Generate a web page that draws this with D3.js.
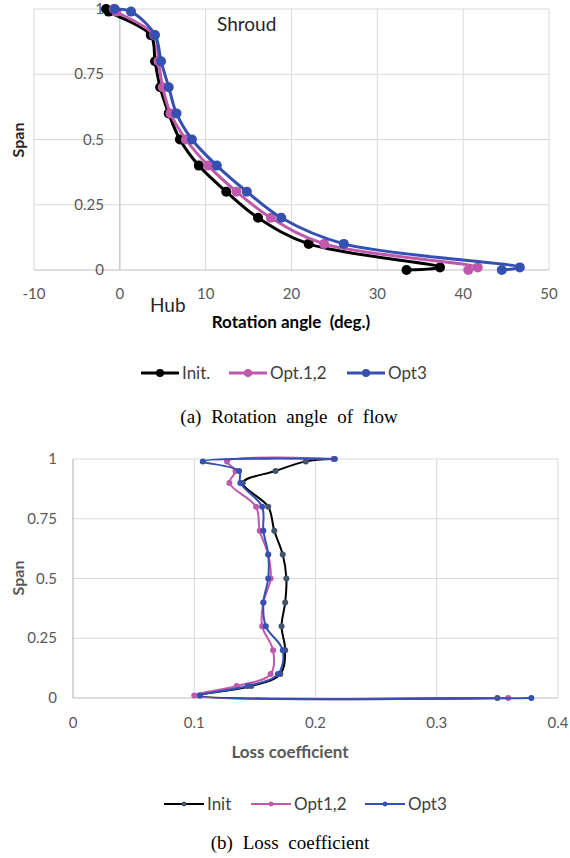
<!DOCTYPE html>
<html>
<head>
<meta charset="utf-8">
<script src="https://cdn.jsdelivr.net/npm/d3@7"></script>
<style>
  body { margin: 0; background: #fff; }
  svg { display: block; }
  .tick-label { font-family: Lato, "Open Sans", sans-serif; font-size: 15px; fill: #595959; }
  .caption { font-family: "Liberation Serif", "Times New Roman", serif; font-size: 19px; fill: #000; word-spacing: 5px; }
</style>
</head>
<body>
<div id="chart"></div>
<script>
// ---- data: (a) rotation angle of flow ----
const spanA = [1, 0.99, 0.9, 0.8, 0.7, 0.6, 0.5, 0.4, 0.3, 0.2, 0.1, 0.01, 0];
const angleInit = [-1.6, -1.3, 3.6, 4.1, 4.7, 5.7, 7.0, 9.2, 12.4, 16.1, 22.0, 37.3, 33.4];
const angleOpt12 = [-0.7, -0.4, 4.0, 4.5, 5.0, 5.9, 7.7, 10.3, 13.6, 17.6, 23.8, 41.7, 40.6];
const angleOpt3 = [-0.6, 1.3, 4.1, 4.8, 5.7, 6.6, 8.4, 11.3, 14.8, 18.8, 26.1, 46.6, 44.5];
const ticksAx = [-10, 0, 10, 20, 30, 40, 50];
const ticksAy = [0, 0.25, 0.5, 0.75, 1];

// ---- data: (b) loss coefficient ----
const spanB = [1, 0.99, 0.95, 0.9, 0.8, 0.7, 0.6, 0.5, 0.4, 0.3, 0.2, 0.1, 0.05, 0.01, 0];
const lossInit = [0.215, 0.192, 0.167, 0.140, 0.161, 0.166, 0.173, 0.176, 0.175, 0.172, 0.175, 0.171, 0.147, 0.104, 0.350];
const lossOpt12 = [0.215, 0.127, 0.134, 0.129, 0.151, 0.154, 0.161, 0.163, 0.157, 0.156, 0.165, 0.163, 0.135, 0.100, 0.359];
const lossOpt3 = [0.216, 0.107, 0.137, 0.138, 0.156, 0.157, 0.161, 0.161, 0.157, 0.159, 0.173, 0.169, 0.144, 0.105, 0.378];
const ticksBx = [0, 0.1, 0.2, 0.3, 0.4];
const ticksBy = [0, 0.25, 0.5, 0.75, 1];

const W = 570, H = 858;
const svg = d3.select("#chart").append("svg").attr("width", W).attr("height", H);

const gridColor = "#d9d9d9";
const axisColor = "#bfbfbf";
const sans = "Lato, 'Open Sans', sans-serif";

function drawChart(cfg) {
  const g = svg.append("g");
  const x = d3.scaleLinear().domain(cfg.xDomain).range(cfg.xRange);
  const y = d3.scaleLinear().domain([0, 1]).range(cfg.yRange);

  // gridlines
  g.selectAll("line.vgrid").data(cfg.xTicks).join("line")
    .attr("x1", d => x(d)).attr("x2", d => x(d))
    .attr("y1", y(0)).attr("y2", y(1))
    .attr("stroke", gridColor).attr("stroke-width", 1);
  g.selectAll("line.hgrid").data(cfg.yTicks).join("line")
    .attr("x1", x.range()[0]).attr("x2", x.range()[1])
    .attr("y1", d => y(d)).attr("y2", d => y(d))
    .attr("stroke", d => d === 0 ? axisColor : gridColor).attr("stroke-width", 1);
  // vertical axis line at x=0
  g.append("line")
    .attr("x1", x(0)).attr("x2", x(0)).attr("y1", y(0)).attr("y2", y(1))
    .attr("stroke", axisColor);

  // tick labels
  g.selectAll("text.xt").data(cfg.xTicks).join("text")
    .attr("class", "tick-label")
    .attr("x", d => x(d)).attr("y", y(0) + cfg.xLabelDy)
    .attr("text-anchor", "middle")
    .text(d => d);
  g.selectAll("text.yt").data(cfg.yTicks).join("text")
    .attr("class", "tick-label")
    .attr("x", cfg.yLabelX).attr("y", d => y(d) + 5)
    .attr("text-anchor", "end")
    .text(d => d);

  // series
  cfg.series.forEach(s => {
    const pts = s.values.map((v, i) => [v, cfg.span[i]]);
    g.append("path")
      .datum(pts)
      .attr("fill", "none")
      .attr("stroke", s.color)
      .attr("stroke-width", cfg.lineWidth)
      .attr("stroke-linejoin", "round")
      .attr("d", d3.line().x(d => x(d[0])).y(d => y(d[1])).curve(d3.curveCatmullRom.alpha(0.5)));
    g.selectAll(null).data(pts).join("circle")
      .attr("cx", d => x(d[0])).attr("cy", d => y(d[1]))
      .attr("r", cfg.markerR)
      .attr("fill", s.marker);
  });

  // axis titles
  g.append("text")
    .attr("x", cfg.xTitleX).attr("y", cfg.xTitleY)
    .attr("text-anchor", "middle")
    .style("font-family", sans).style("white-space", "pre")
    .style("font-size", "17px").style("font-weight", "bold")
    .attr("fill", cfg.titleColor)
    .text(cfg.xTitle);
  g.append("text")
    .attr("transform", `translate(${cfg.yTitleX},${cfg.yTitleY}) rotate(-90)`)
    .attr("text-anchor", "middle")
    .style("font-family", sans)
    .style("font-size", "16px").style("font-weight", "bold")
    .attr("fill", cfg.yTitleColor)
    .text("Span");

  // legend
  cfg.series.forEach((s, i) => {
    const lx = cfg.legendX[i];
    g.append("line")
      .attr("x1", lx).attr("x2", lx + cfg.legendLen)
      .attr("y1", cfg.legendY).attr("y2", cfg.legendY)
      .attr("stroke", s.color).attr("stroke-width", cfg.lineWidth);
    g.append("circle")
      .attr("cx", lx + cfg.legendLen / 2).attr("cy", cfg.legendY)
      .attr("r", cfg.markerR * 0.8).attr("fill", s.marker);
    g.append("text")
      .attr("x", lx + cfg.legendLen + 3).attr("y", cfg.legendY + 6)
      .style("font-family", sans)
      .style("font-size", "17px").attr("fill", "#404040")
      .text(s.name);
  });

  // caption
  g.append("text").attr("class", "caption")
    .attr("x", cfg.captionX).attr("y", cfg.captionY)
    .attr("text-anchor", "middle")
    .text(cfg.caption);
  return { g, x, y };
}

const a = drawChart({
  xDomain: [-10, 50], xRange: [34, 549], yRange: [270, 9],
  xTicks: ticksAx, yTicks: ticksAy, span: spanA,
  xLabelDy: 29, yLabelX: 104,
  lineWidth: 3, markerR: 5,
  series: [
    { name: "Init.", values: angleInit, color: "#000000", marker: "#000000" },
    { name: "Opt.1,2", values: angleOpt12, color: "#c058ac", marker: "#c058ac" },
    { name: "Opt3", values: angleOpt3, color: "#3450b0", marker: "#3450b0" }
  ],
  xTitle: "Rotation angle  (deg.)", xTitleX: 291, xTitleY: 328, titleColor: "#000",
  yTitleX: 24, yTitleY: 140, yTitleColor: "#262626",
  legendX: [141, 229, 347], legendLen: 38, legendY: 373,
  caption: "(a) Rotation angle of flow", captionX: 289, captionY: 423
});
a.g.append("text")
  .attr("x", 217).attr("y", 31)
  .style("font-family", sans).style("font-size", "19px")
  .attr("fill", "#262626").text("Shroud");
a.g.append("text")
  .attr("x", 150).attr("y", 312)
  .style("font-family", sans).style("font-size", "19px")
  .attr("fill", "#262626").text("Hub");

drawChart({
  xDomain: [0, 0.4], xRange: [73, 558], yRange: [698, 459],
  xTicks: ticksBx, yTicks: ticksBy, span: spanB,
  xLabelDy: 30, yLabelX: 57,
  lineWidth: 2, markerR: 3,
  series: [
    { name: "Init", values: lossInit, color: "#000000", marker: "#44546a" },
    { name: "Opt1,2", values: lossOpt12, color: "#c058ac", marker: "#c058ac" },
    { name: "Opt3", values: lossOpt3, color: "#3450b0", marker: "#3450b0" }
  ],
  xTitle: "Loss coefficient", xTitleX: 290, xTitleY: 758, titleColor: "#595959",
  yTitleX: 24, yTitleY: 578, yTitleColor: "#595959",
  legendX: [164, 251, 365], legendLen: 40, legendY: 804,
  caption: "(b) Loss coefficient", captionX: 290, captionY: 849
});
</script>
</body>
</html>
